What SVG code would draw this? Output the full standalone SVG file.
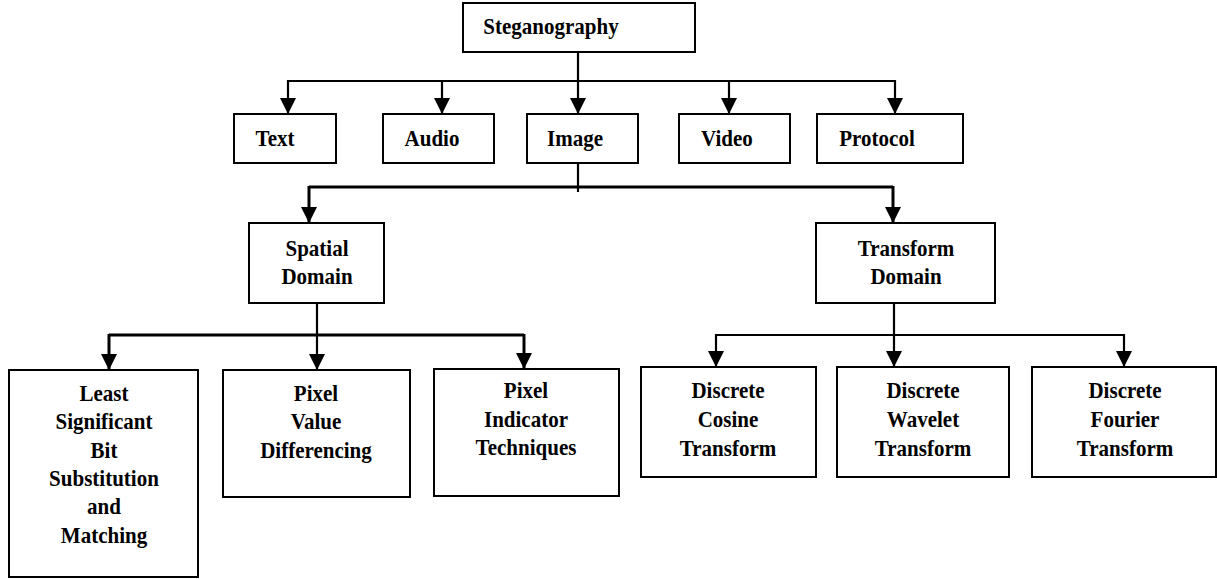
<svg xmlns="http://www.w3.org/2000/svg" width="1217" height="579" viewBox="0 0 1217 579">
<style>
.box{fill:#fff;stroke:#000;stroke-width:2}
.t{font-family:"Liberation Serif","Times New Roman",serif;font-weight:bold;font-size:22.6px;fill:#000;text-anchor:middle;transform-box:fill-box;transform-origin:center;transform:scaleX(0.93)}
.ln{fill:none;stroke:#000;stroke-width:2.2}
.lt{fill:none;stroke:#000;stroke-width:3}
</style>
<defs>
<marker id="ah" markerUnits="userSpaceOnUse" markerWidth="16" markerHeight="16" refX="16" refY="8" orient="auto">
<path d="M0,0 L16,8 L0,16 z" fill="#000"/>
</marker>
</defs>
<rect width="1217" height="579" fill="#fff"/>
<g id="connectors">
<line class="ln" x1="578" y1="52" x2="578" y2="114" marker-end="url(#ah)"/>
<line class="ln" x1="288" y1="81" x2="896" y2="81"/>
<line class="ln" x1="288" y1="80" x2="288" y2="114" marker-end="url(#ah)"/>
<line class="ln" x1="442" y1="80" x2="442" y2="114" marker-end="url(#ah)"/>
<line class="ln" x1="729" y1="80" x2="729" y2="114" marker-end="url(#ah)"/>
<line class="ln" x1="895" y1="80" x2="895" y2="114" marker-end="url(#ah)"/>
<line class="ln" x1="578" y1="163" x2="578" y2="192"/>
<line class="lt" x1="309" y1="187" x2="893" y2="187"/>
<line class="lt" x1="309" y1="186" x2="309" y2="223" marker-end="url(#ah)"/>
<line class="lt" x1="893" y1="186" x2="893" y2="223" marker-end="url(#ah)"/>
<line class="ln" x1="317" y1="303" x2="317" y2="370" marker-end="url(#ah)"/>
<line class="lt" x1="109" y1="335" x2="524" y2="335"/>
<line class="lt" x1="109" y1="334" x2="109" y2="370" marker-end="url(#ah)"/>
<line class="lt" x1="524" y1="334" x2="524" y2="369" marker-end="url(#ah)"/>
<line class="ln" x1="894" y1="303" x2="894" y2="367" marker-end="url(#ah)"/>
<line class="ln" x1="716" y1="335" x2="1124" y2="335"/>
<line class="ln" x1="716" y1="334" x2="716" y2="367" marker-end="url(#ah)"/>
<line class="ln" x1="1124" y1="334" x2="1124" y2="367" marker-end="url(#ah)"/>
</g>
<g id="steganography"><rect class="box" x="463" y="3" width="232" height="49"/><text class="t" x="551" y="34">Steganography</text></g>
<g id="text"><rect class="box" x="234" y="114" width="102" height="49"/><text class="t" x="275" y="146">Text</text></g>
<g id="audio"><rect class="box" x="383" y="114" width="111" height="49"/><text class="t" x="432" y="146">Audio</text></g>
<g id="image"><rect class="box" x="527" y="114" width="111" height="49"/><text class="t" x="575" y="146">Image</text></g>
<g id="video"><rect class="box" x="679" y="114" width="111" height="49"/><text class="t" x="727" y="146">Video</text></g>
<g id="protocol"><rect class="box" x="817" y="114" width="146" height="49"/><text class="t" x="877" y="146">Protocol</text></g>
<g id="spatial"><rect class="box" x="249" y="223" width="135" height="80"/><text class="t" x="317" y="256">Spatial</text><text class="t" x="317" y="284">Domain</text></g>
<g id="transform"><rect class="box" x="816" y="223" width="179" height="80"/><text class="t" x="906" y="256">Transform</text><text class="t" x="906" y="284">Domain</text></g>
<g id="lsb"><rect class="box" x="9" y="370" width="189" height="207"/>
<text class="t" x="104" y="401">Least</text><text class="t" x="104" y="429">Significant</text><text class="t" x="104" y="458">Bit</text><text class="t" x="104" y="486">Substitution</text><text class="t" x="104" y="514">and</text><text class="t" x="104" y="543">Matching</text></g>
<g id="pvd"><rect class="box" x="223" y="370" width="187" height="127"/>
<text class="t" x="316" y="401">Pixel</text><text class="t" x="316" y="429">Value</text><text class="t" x="316" y="458">Differencing</text></g>
<g id="pit"><rect class="box" x="434" y="369" width="185" height="127"/>
<text class="t" x="526" y="398">Pixel</text><text class="t" x="526" y="427">Indicator</text><text class="t" x="526" y="455">Techniques</text></g>
<g id="dct"><rect class="box" x="641" y="367" width="175" height="110"/>
<text class="t" x="728" y="398">Discrete</text><text class="t" x="728" y="427">Cosine</text><text class="t" x="728" y="456">Transform</text></g>
<g id="dwt"><rect class="box" x="837" y="367" width="172" height="110"/>
<text class="t" x="923" y="398">Discrete</text><text class="t" x="923" y="427">Wavelet</text><text class="t" x="923" y="456">Transform</text></g>
<g id="dft"><rect class="box" x="1032" y="367" width="184" height="110"/>
<text class="t" x="1125" y="398">Discrete</text><text class="t" x="1125" y="427">Fourier</text><text class="t" x="1125" y="456">Transform</text></g>
</svg>
